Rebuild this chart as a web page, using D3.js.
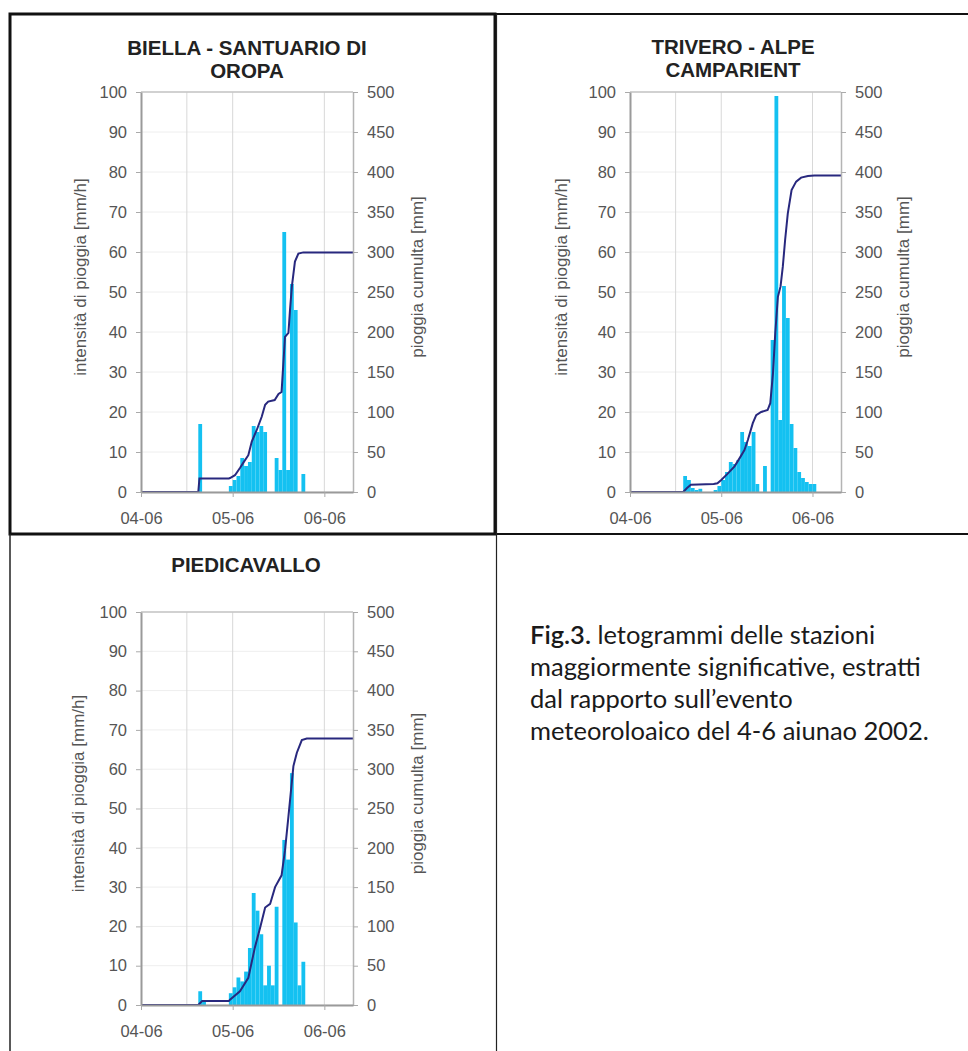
<!DOCTYPE html>
<html>
<head>
<meta charset="utf-8">
<script src="https://cdn.jsdelivr.net/npm/d3@7"></script>
<style>
body { margin: 0; background: #fff; }
svg { display: block; font-family: "Liberation Sans", Arial, sans-serif; }
</style>
</head>
<body>
<svg id="chart" width="968" height="1051"></svg>
<script>
// hours counted from 04-06 00:00
var xTickHours = [0, 24, 48];
var xTickLabels = ["04-06", "05-06", "06-06"];
var gridHours = [12, 24, 48];
var yLeftLabel = "intensità di pioggia [mm/h]";
var yRightLabel = "pioggia cumulta [mm]";

var titleBiella = ["BIELLA - SANTUARIO DI", "OROPA"];
var hoursBiella = [15, 23, 24, 25, 26, 27, 28, 29, 30, 31, 32, 35, 36, 37, 38, 39, 40, 42];
var rainBiella  = [17, 1.5, 3, 4, 8.5, 6.5, 7.5, 16.5, 15, 16.5, 15, 8.5, 5.5, 65, 5.5, 52, 45.5, 4.5];
var cumHoursBiella = [0, 15, 15.3, 23, 23.3, 24.6, 25.9, 26.8, 28.1, 29, 30.3, 31.6, 32.5, 33.3, 35, 36, 36.8, 37.7, 38.6, 39, 39.5, 40.3, 41.2, 42.5, 55.5];
var cumBiella      = [0, 0, 17, 17, 17.5, 21, 30, 36.7, 46, 63, 77.5, 94, 109, 113, 115, 122.5, 125, 194, 199, 227, 257, 288, 298, 299.5, 299.5];

var titleTrivero = ["TRIVERO - ALPE", "CAMPARIENT"];
var hoursTrivero = [14, 15, 16, 17, 18, 22, 23, 24, 25, 26, 27, 28, 29, 30, 31, 32, 33, 35, 37, 38, 39, 40, 41, 42, 43, 44, 45, 46, 47, 48];
var rainTrivero  = [4, 3, 1, 0.5, 0.8, 0.5, 1.5, 3, 5, 7.5, 7, 8, 15, 12.5, 11.5, 15, 2, 6.5, 38, 99, 18, 51.5, 43.5, 17, 11, 5, 3.5, 2.5, 2, 2];
var cumHoursTrivero = [0, 14, 15, 16, 22, 23, 24, 25.7, 27.5, 28.8, 30.1, 31, 32.3, 33.2, 34.5, 36.2, 36.9, 37.6, 38.2, 38.9, 39.6, 40.2, 40.8, 41.5, 42.5, 43.7, 45, 46.8, 48.5, 55.5];
var cumTrivero      = [0, 0, 5, 9, 10, 11, 15, 23, 32, 42, 52.5, 65, 86, 96, 100, 102.5, 111, 148, 198, 244, 257, 282, 315, 348, 377.5, 388, 393, 395, 395.5, 395.5];

var titlePiedicavallo = ["PIEDICAVALLO"];
var hoursPiedicavallo = [15, 16, 23, 24, 25, 26, 27, 28, 29, 30, 31, 32, 33, 34, 35, 37, 38, 39, 40, 41, 42];
var rainPiedicavallo  = [3.5, 0.8, 3, 4.5, 7, 6, 8.5, 14.5, 28.5, 24, 18, 5, 10, 5, 25, 42, 37, 59, 21, 5, 11];
var cumHoursPiedicavallo = [0, 15, 16, 23, 23.3, 25.9, 28.1, 29.8, 31.2, 32.5, 33.8, 35.1, 36.8, 37.7, 38.6, 39.9, 40.8, 42.1, 43.4, 55.5];
var cumPiedicavallo      = [0, 0, 5, 5, 6.8, 17.5, 34.6, 73, 98.7, 124, 128.6, 150, 165, 197, 240, 304, 321, 337, 339, 339];

var captionBold = "Fig.3.";
var captionLines = [
  " letogrammi delle stazioni",
  "maggiormente significative, estratti",
  "dal rapporto sull\u2019evento",
  "meteoroloaico del 4-6 aiunao 2002."
];

var barColor = "#14c1f1";
var lineColor = "#28287e";
var textGray = "#555";

var svg = d3.select("#chart");
svg.append("rect").attr("width", 968).attr("height", 1051).attr("fill", "#fff");

var charts = [
  { title: titleBiella, hours: hoursBiella, rain: rainBiella, cumHours: cumHoursBiella, cum: cumBiella,
    x0: 141, x1: 353, y0: 492, y1: 92, tx: 247, ty: 48, lOff: 61, rOff: 64 },
  { title: titleTrivero, hours: hoursTrivero, rain: rainTrivero, cumHours: cumHoursTrivero, cum: cumTrivero,
    x0: 630, x1: 841, y0: 492, y1: 92, tx: 733, ty: 47, lOff: 69, rOff: 62 },
  { title: titlePiedicavallo, hours: hoursPiedicavallo, rain: rainPiedicavallo, cumHours: cumHoursPiedicavallo, cum: cumPiedicavallo,
    x0: 141, x1: 353, y0: 1005, y1: 612, tx: 246, ty: 565, lOff: 63, rOff: 64 }
];

charts.forEach(function(c) {
  var x = d3.scaleLinear().domain([0, 55.5]).range([c.x0, c.x1]);
  var yL = d3.scaleLinear().domain([0, 100]).range([c.y0, c.y1]);
  var yR = d3.scaleLinear().domain([0, 500]).range([c.y0, c.y1]);
  var g = svg.append("g");

  // grid
  g.selectAll(".hgrid").data(yL.ticks(10)).join("line")
    .attr("x1", c.x0).attr("x2", c.x1)
    .attr("y1", function(d) { return yL(d); }).attr("y2", function(d) { return yL(d); })
    .attr("stroke", "#eeeeee").attr("stroke-width", 1);
  g.selectAll(".vgrid").data(gridHours).join("line")
    .attr("x1", function(d) { return x(d); }).attr("x2", function(d) { return x(d); })
    .attr("y1", c.y1).attr("y2", c.y0)
    .attr("stroke", "#d8d8d8").attr("stroke-width", 1);

  // bars
  g.selectAll(".bar").data(d3.zip(c.hours, c.rain)).join("rect")
    .attr("x", function(d) { return x(d[0]); })
    .attr("width", function(d) { return x(d[0] + 1) - x(d[0]); })
    .attr("y", function(d) { return yL(d[1]); })
    .attr("height", function(d) { return yL(0) - yL(d[1]); })
    .attr("fill", barColor);

  // cumulative line
  var line = d3.line().x(function(d) { return x(d[0]); }).y(function(d) { return yR(d[1]); });
  g.append("path").datum(d3.zip(c.cumHours, c.cum))
    .attr("d", line).attr("fill", "none")
    .attr("stroke", lineColor).attr("stroke-width", 2);

  // axes
  g.append("line").attr("x1", c.x0).attr("x2", c.x1).attr("y1", c.y1).attr("y2", c.y1)
    .attr("stroke", "#c4c4c4").attr("stroke-width", 1.5);

  var axL = g.append("g").attr("transform", "translate(" + c.x0 + ",0)")
    .call(d3.axisLeft(yL).ticks(10).tickSize(5).tickSizeOuter(0).tickPadding(9));
  var axR = g.append("g").attr("transform", "translate(" + c.x1 + ",0)")
    .call(d3.axisRight(yR).ticks(10).tickSize(5).tickSizeOuter(0).tickPadding(9));
  var axB = g.append("g").attr("transform", "translate(0," + c.y0 + ")")
    .call(d3.axisBottom(x).tickValues(xTickHours)
      .tickFormat(function(d, i) { return xTickLabels[i]; })
      .tickSize(5).tickSizeOuter(0).tickPadding(15));

  [axL, axR, axB].forEach(function(a) {
    a.select(".domain").attr("stroke", "#9a9a9a").attr("stroke-width", 2);
    a.selectAll(".tick line").attr("stroke", "#aaa");
    a.selectAll("text").attr("fill", textGray)
      .attr("font-size", 16.5).attr("font-family", "Liberation Sans, Arial, sans-serif");
  });
  axR.select(".domain").attr("stroke", "#b4b4b4").attr("stroke-width", 1.5);

  // axis titles
  var midY = (c.y0 + c.y1) / 2 - 15;
  g.append("text")
    .attr("transform", "translate(" + (c.x0 - c.lOff) + "," + midY + ") rotate(-90)")
    .attr("text-anchor", "middle").attr("dy", "0.35em")
    .attr("font-size", 17).attr("fill", textGray).text(yLeftLabel);
  g.append("text")
    .attr("transform", "translate(" + (c.x1 + c.rOff) + "," + midY + ") rotate(-90)")
    .attr("text-anchor", "middle").attr("dy", "0.35em")
    .attr("font-size", 17).attr("fill", textGray).text(yRightLabel);

  // title
  g.selectAll(".title").data(c.title).join("text")
    .attr("x", c.tx).attr("y", function(d, i) { return c.ty + i * 23; })
    .attr("dy", "0.35em").attr("text-anchor", "middle")
    .attr("font-size", 20.5).attr("font-weight", "bold").attr("fill", "#222")
    .text(function(d) { return d; });
});

// panel frames
svg.append("rect").attr("x", 10).attr("y", 14).attr("width", 485).attr("height", 520)
  .attr("fill", "none").attr("stroke", "#111").attr("stroke-width", 3);
svg.append("line").attr("x1", 495).attr("x2", 968).attr("y1", 14).attr("y2", 14)
  .attr("stroke", "#111").attr("stroke-width", 2);
svg.append("line").attr("x1", 495).attr("x2", 968).attr("y1", 534).attr("y2", 534)
  .attr("stroke", "#111").attr("stroke-width", 2);
svg.append("line").attr("x1", 496.5).attr("x2", 496.5).attr("y1", 14).attr("y2", 1051)
  .attr("stroke", "#222").attr("stroke-width", 1.2);
svg.append("line").attr("x1", 10).attr("x2", 10).attr("y1", 534).attr("y2", 1051)
  .attr("stroke", "#222").attr("stroke-width", 1.5);

// caption
var cap = svg.append("g").attr("font-family", "Lato, 'Noto Sans', sans-serif")
  .attr("font-size", 25.5).attr("fill", "#1a1a1a");
var first = cap.append("text").attr("x", 530).attr("y", 644);
first.append("tspan").attr("font-weight", 600).text(captionBold);
first.append("tspan").text(captionLines[0]);
cap.selectAll(".cl").data(captionLines.slice(1)).join("text")
  .attr("x", 530).attr("y", function(d, i) { return 644 + (i + 1) * 32; })
  .text(function(d) { return d; });
</script>
</body>
</html>
